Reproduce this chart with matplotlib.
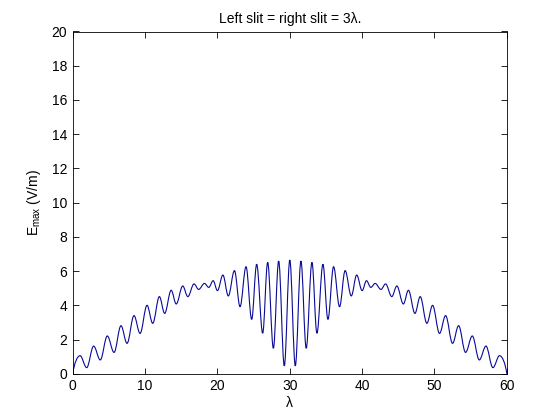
import matplotlib
matplotlib.use("Agg")
import matplotlib.pyplot as plt
from matplotlib.path import Path
from matplotlib.patches import PathPatch

# peaks and troughs
lam = [0, 1.0, 1.92, 2.88, 3.8, 4.77, 5.7, 6.66, 7.5, 8.46, 9.3, 10.26, 11.05,
       11.97, 12.7, 13.6, 14.3, 15.2, 15.9, 16.76, 17.4, 18.2, 18.8, 19.4,
       20.0, 20.75, 21.5, 22.35, 23.12, 23.95, 24.73, 25.42, 26.25, 26.94,
       27.73, 28.46, 29.24, 30.0, 30.76, 31.54, 32.27, 33.06, 33.75, 34.58,
       35.27, 36.05, 36.88, 37.65, 38.5, 39.25, 40.0, 40.6, 41.2, 41.8, 42.6,
       43.24, 44.1, 44.8, 45.7, 46.4, 47.3, 48.03, 48.95, 49.74, 50.7, 51.54,
       52.5, 53.34, 54.3, 55.23, 56.2, 57.12, 58.08, 59.0, 60]
emax = [0, 1.06, 0.36, 1.62, 0.81, 2.21, 1.25, 2.81, 1.78, 3.4, 2.36, 4.0, 2.95,
        4.51, 3.53, 4.88, 4.08, 5.13, 4.51, 5.25, 4.93, 5.28, 5.05, 5.44,
        4.86, 5.77, 4.55, 6.03, 3.92, 6.26, 3.18, 6.4, 2.37, 6.51,
        1.49, 6.59, 0.46, 6.65, 0.46, 6.59, 1.49, 6.51, 2.37, 6.4,
        3.18, 6.26, 3.92, 6.03, 4.55, 5.77, 4.86, 5.44, 5.05, 5.28, 4.93,
        5.25, 4.51, 5.13, 4.08, 4.88, 3.53, 4.51, 2.95, 4.0, 2.36, 3.4,
        1.78, 2.81, 1.25, 2.21, 0.81, 1.62, 0.36, 1.06, 0]

xticks = [0, 10, 20, 30, 40, 50, 60]
yticks = [0, 2, 4, 6, 8, 10, 12, 14, 16, 18, 20]

plt.rcParams['font.family'] = ['Liberation Sans', 'DejaVu Sans']
plt.rcParams['mathtext.fontset'] = 'custom'
plt.rcParams['mathtext.rm'] = 'Liberation Sans'
plt.rcParams['mathtext.it'] = 'Liberation Sans:italic'
plt.rcParams['mathtext.default'] = 'regular'

fig = plt.figure(figsize=(5.6, 4.2), dpi=100)
ax = fig.add_axes([0.13, 0.11, 0.775, 0.815])

# smooth curve through the extrema (flat tangents at peaks and troughs)
verts = [(lam[0], emax[0])]
codes = [Path.MOVETO]
n = len(lam)
for i in range(n - 1):
    x0, y0, x1, y1 = lam[i], emax[i], lam[i + 1], emax[i + 1]
    dx = x1 - x0
    # end points are not extrema, let the curve leave them straight
    c0 = (x0 + 0.36 * dx, y0) if i > 0 else (x0 + 0.2 * dx, y0 + 0.6 * (y1 - y0))
    c1 = (x1 - 0.36 * dx, y1) if i < n - 2 else (x1 - 0.2 * dx, y1 + 0.6 * (y0 - y1))
    verts += [c0, c1, (x1, y1)]
    codes += [Path.CURVE4] * 3
ax.add_patch(PathPatch(Path(verts, codes), facecolor='none',
                       edgecolor='#0a0a96', linewidth=0.8))

ax.set_xlim(0, 60)
ax.set_ylim(0, 20)
ax.set_xticks(xticks)
ax.set_yticks(yticks)
ax.tick_params(direction='in', top=True, right=True, length=4, width=0.6,
               labelsize=10, pad=4)
for s in ax.spines.values():
    s.set_linewidth(0.6)

ax.set_title('Left slit = right slit = 3λ.', fontsize=10, pad=6)
ax.set_xlabel('λ', fontsize=10, labelpad=2)
ax.set_ylabel('E$_{max}$ (V/m)', fontsize=10, labelpad=6)

fig.savefig('out.png', dpi=100, facecolor='white')
